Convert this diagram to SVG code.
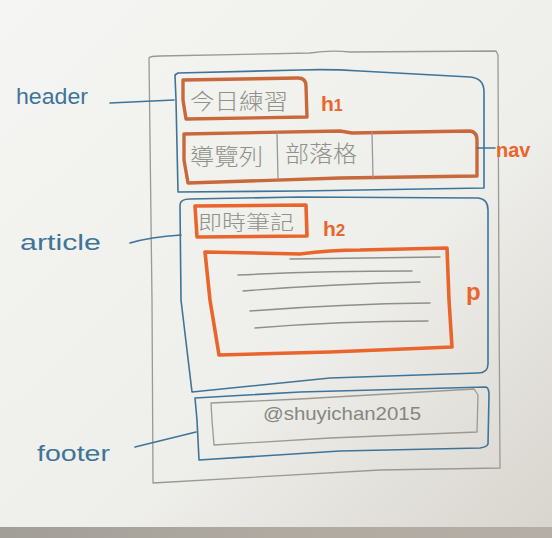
<svg xmlns="http://www.w3.org/2000/svg" width="552" height="538" viewBox="0 0 552 538">
  <defs>
    <linearGradient id="paper" x1="0" y1="0" x2="1" y2="1">
      <stop offset="0" stop-color="#f5f5f3"/>
      <stop offset="0.6" stop-color="#eeeeea"/>
      <stop offset="1" stop-color="#d8d4ce"/>
    </linearGradient>
    <linearGradient id="desk" x1="0" y1="0" x2="1" y2="0">
      <stop offset="0" stop-color="#a29e98"/>
      <stop offset="0.5" stop-color="#b0aaa1"/>
      <stop offset="1" stop-color="#b4aea6"/>
    </linearGradient>
    <style>
      .pencil { fill: none; stroke: #9a9a92; stroke-width: 1.3; stroke-linecap: round; stroke-linejoin: round; }
      .ink { fill: none; stroke: #3f7499; stroke-width: 1.6; stroke-linecap: round; stroke-linejoin: round; }
      .marker { fill: none; stroke: #e9652c; stroke-width: 3.6; stroke-linecap: round; stroke-linejoin: round; }
      .marker-brown { fill: none; stroke: #c9683a; stroke-width: 3.4; stroke-linecap: round; stroke-linejoin: round; }
      .lead { fill: none; stroke: #8e9088; stroke-width: 1.4; stroke-linecap: round; }
      .zh { font-family: "Noto Sans CJK TC", "Noto Sans CJK SC", sans-serif; fill: #8f918a; font-weight: 300; }
      .tag { font-family: "Liberation Sans", Arial, sans-serif; fill: #3f7499; font-size: 22px; }
      .el { font-family: "Liberation Sans", Arial, sans-serif; fill: #e9652c; font-weight: bold; }
      .hand { font-family: "Liberation Sans", Arial, sans-serif; fill: #85877f; }
    </style>
  </defs>

  <!-- paper and desk edge -->
  <rect x="0" y="0" width="552" height="538" fill="url(#paper)"/>
  <rect x="0" y="527" width="552" height="11" fill="url(#desk)"/>

  <!-- page outline -->
  <g id="page">
    <path class="pencil" d="M149,58 Q150,56 160,56 L310,53 Q330,50 350,52 L496,51 L498,55 L499,300 L500,468 L380,470 L153,483 L152,300 Z"/>
  </g>

  <!-- header section -->
  <g id="header">
    <path class="ink" d="M175,75 L178,73 L300,70 Q330,69 360,71 L470,77 Q484,78 484,92 L484,188 L300,191 L178,192 L176,100 Z"/>
  </g>

  <g id="h1">
    <path class="marker-brown" d="M183,80 L298,78 Q306,78 306,86 L307,117 L186,119 L183,100 Z"/>
    <text class="zh" x="190" y="109" font-size="22" textLength="98" lengthAdjust="spacingAndGlyphs">今日練習</text>
  </g>

  <g id="nav">
    <path class="marker-brown" d="M184,134 L340,131 L352,133 L470,131 Q477,132 477,140 L477,176 L340,178 L188,183 L184,160 Z"/>
    <path class="pencil" d="M277,133 L278,179 M372,132 L373,177"/>
    <text class="zh" x="190" y="165" font-size="23" textLength="73" lengthAdjust="spacingAndGlyphs">導覽列</text>
    <text class="zh" x="285" y="162" font-size="23" textLength="72" lengthAdjust="spacingAndGlyphs">部落格</text>
  </g>

  <!-- article section -->
  <g id="article">
    <path class="ink" d="M180,205 Q180,199 190,199 L300,197 L478,198 Q488,199 488,210 L488,364 Q488,373 478,373 L330,378 L192,392 L181,300 Z"/>
  </g>

  <g id="h2">
    <path class="marker" d="M195,206 L306,205 L307,236 L197,237 Z"/>
    <text class="zh" x="198" y="230" font-size="20" textLength="96" lengthAdjust="spacingAndGlyphs">即時筆記</text>
  </g>

  <g id="p">
    <path class="marker" d="M205,252 L300,254 Q330,250 360,250 L447,248 L449,300 L452,347 L330,352 L219,355 L210,300 Z"/>
    <path class="lead" d="M238,275 Q320,271 412,271 M243,291 Q330,284 420,282 M250,311 Q340,304 430,303 M255,328 Q340,321 428,321 M290,259 L440,257"/>
  </g>

  <!-- footer section -->
  <g id="footer">
    <path class="ink" d="M195,398 L300,392 L486,387 Q489,388 489,395 L488,444 Q487,447 480,448 L340,451 L199,460 L197,420 Z"/>
    <path class="pencil" d="M211,403 L300,399 L474,389 L478,395 L477,432 L330,438 L214,445 L212,420 Z"/>
    <text class="hand" x="263" y="420" font-size="19" textLength="158" lengthAdjust="spacingAndGlyphs">@shuyichan2015</text>
  </g>

  <!-- element names -->
  <g id="element-labels">
    <text class="el" x="321" y="111" font-size="21">h<tspan font-size="16">1</tspan></text>
    <text class="el" x="323" y="236" font-size="21">h<tspan font-size="17">2</tspan></text>
    <text class="el" x="496" y="157" font-size="20" fill="#d8652a">nav</text>
    <text class="el" x="466" y="300" font-size="24">p</text>
  </g>

  <!-- tag names on the left -->
  <g id="tag-labels">
    <text class="tag" x="16" y="104" textLength="72" lengthAdjust="spacingAndGlyphs">header</text>
    <text class="tag" x="20" y="250" textLength="81" lengthAdjust="spacingAndGlyphs">article</text>
    <text class="tag" x="37" y="461" textLength="73" lengthAdjust="spacingAndGlyphs">footer</text>
  </g>

  <!-- leader lines -->
  <g id="connectors">
    <path class="ink" d="M110,103 L174,100"/>
    <path class="ink" d="M130,243 Q150,237 181,235"/>
    <path class="ink" d="M135,447 L196,432"/>
    <path class="ink" d="M477,148 L495,148"/>
  </g>
</svg>
